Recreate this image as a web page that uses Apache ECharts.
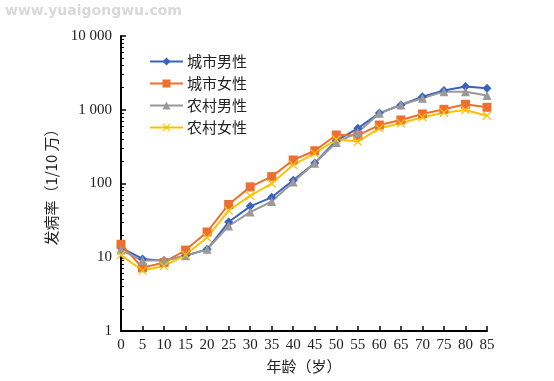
<!DOCTYPE html>
<html><head><meta charset="utf-8">
<script src="https://cdn.jsdelivr.net/npm/echarts@6/dist/echarts.min.js"></script>
<style>html,body{margin:0;padding:0;background:#fff}#c{width:554px;height:381px}</style>
</head><body><div id="c"></div>
<script>
var ages = [0,5,10,15,20,25,30,35,40,45,50,55,60,65,70,75,80,85];
var cityMale   = [13.5,9.5,9.0,10.5,12.8,30,49,65,111,190,380,560,900,1160,1500,1830,2070,1950];
var cityFemale = [15,7.2,8.5,12.5,22,52,90,124,208,278,455,450,620,727,876,1015,1186,1080];
var ruralMale  = [12.5,9.0,9.0,10.5,12.8,26.5,41,57,105,188,360,490,894,1160,1430,1760,1760,1560];
var ruralFemale= [10.7,6.6,7.6,10.8,18.5,43,68,100,179,256,395,370,560,655,790,910,990,830];
var names = ['城市男性','城市女性','农村男性','农村女性'];
var yTicks = {1:'1',10:'10',100:'100',1000:'1 000',10000:'10 000'};

function pairs(arr){return ages.map(function(a,i){return [a,arr[i]];});}
var xPath = 'path://M1,0L5,4L9,0L10,1L6,5L10,9L9,10L5,6L1,10L0,9L4,5L0,1Z';
var serif = '"Liberation Serif","DejaVu Serif",serif';
var cjk = '"Noto Sans CJK SC",sans-serif';
function mk(name, data, color, symbol, size){
  return {name:name,type:'line',data:pairs(data),symbol:symbol,symbolSize:size,
    lineStyle:{color:color,width:2},itemStyle:{color:color},color:color};
}
var chart = echarts.init(document.getElementById('c'));
chart.setOption({
  animation:false,
  grid:{left:121,right:67,top:36,bottom:50},
  graphic:[{type:'text',left:5,top:4,style:{text:'www.yuaigongwu.com',fill:'#d9d9d9',font:'bold 14px "DejaVu Sans",sans-serif'}}],
  legend:{orient:'vertical',left:144,top:49,itemWidth:33,itemHeight:10,itemGap:7,
    textStyle:{fontFamily:cjk,fontSize:15,color:'#222',padding:[0,0,0,-1]},data:names},
  xAxis:{type:'value',min:0,max:85,interval:5,
    name:'年龄（岁）',nameLocation:'middle',nameGap:28,
    nameTextStyle:{fontFamily:cjk,fontSize:15,color:'#222'},
    axisLine:{lineStyle:{color:'#000',width:2}},
    axisTick:{inside:true,length:5,lineStyle:{color:'#000',width:1.5}},
    axisLabel:{fontFamily:serif,fontSize:15,color:'#222',margin:7},
    splitLine:{show:false}},
  yAxis:{type:'log',logBase:10,min:1,max:10000,
    name:'发病率（1/10 万）',nameLocation:'middle',nameGap:62,nameRotate:90,
    nameTextStyle:{fontFamily:cjk,fontSize:15,color:'#222'},
    axisLine:{show:true,lineStyle:{color:'#000',width:2}},
    axisTick:{inside:true,length:5,lineStyle:{color:'#000',width:1.5}},
    minorTick:{show:true,splitNumber:9,length:3,lineStyle:{color:'#000',width:1}},
    axisLabel:{fontFamily:serif,fontSize:15,color:'#222',margin:9,formatter:function(v){return yTicks[Math.round(v)]||'';}},
    splitLine:{show:false}},
  series:[
    mk(names[0],cityMale,'#3a62bf','diamond',9),
    mk(names[1],cityFemale,'#ed7030','rect',9),
    mk(names[2],ruralMale,'#999999','triangle',9),
    mk(names[3],ruralFemale,'#ffc000',xPath,9)
  ]
});
</script></body></html>
